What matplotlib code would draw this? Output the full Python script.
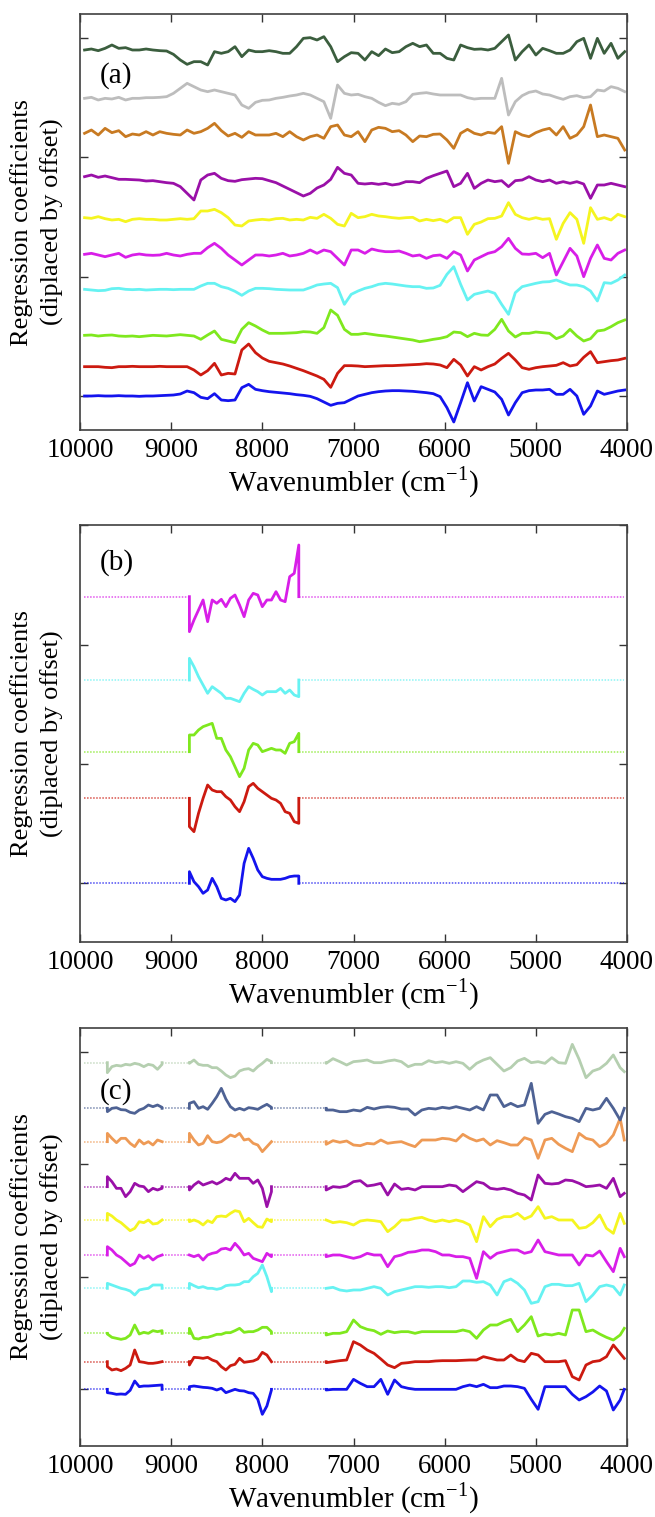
import matplotlib
matplotlib.use('Agg')
import numpy as np
import matplotlib.pyplot as plt

plt.rcParams['font.family'] = ['Liberation Serif', 'DejaVu Serif']
plt.rcParams['mathtext.fontset'] = 'custom'
plt.rcParams['mathtext.rm'] = 'Liberation Serif'

# ---------------- data ----------------
# wavenumber grids (cm-1)
wn_a = np.arange(9950, 4000, -75)            # 80 points
wn_b = np.arange(8800, 7550, -50)            # 25 points (active region)
wn_c1 = np.arange(9700, 9050, -50)           # 13 points
wn_c2 = np.arange(8800, 7850, -50)           # 19 points
wn_c3 = np.append(np.arange(7300, 4000, -75), 4030)  # 45 points
wn_start, wn_end = 9960, 4030

# panel (a): regression coefficients (a.u.), bottom to top
a_blue = [0,0,1,0,0,1,0,0,-1,0,0,1,2,3,6,15,10,-4,-8,7,-12,-14,-12,25,35,20,16,13,11,9,7,4,2,-1,-8,-18,-28,-22,-20,-10,
          0,5,10,13,15,16,16,15,14,12,10,7,-2,-35,-78,-20,40,-15,28,20,12,-10,-57,-20,10,16,18,18,20,5,5,20,0,-55,-30,15,5,10,15,18]
a_red = [0,0,0,-2,-3,0,0,1,0,0,0,1,0,0,0,0,-10,-25,-12,10,-25,-20,-22,50,68,42,26,16,12,8,2,-5,-12,-20,-28,-38,-62,-20,3,3,
         2,0,1,2,3,3,4,5,6,7,9,8,5,-3,22,5,-28,0,-10,0,8,25,40,20,-3,-8,-3,0,2,4,12,2,6,28,45,12,15,18,20,25]
a_green = [2,3,0,2,3,0,-1,0,-2,0,2,1,0,2,4,2,0,-10,3,15,-10,-15,-20,20,40,30,18,8,8,8,9,10,13,12,8,25,78,62,20,5,
           5,8,5,2,0,-3,-6,-9,-12,-17,-14,-10,-7,-2,12,10,-2,8,3,2,20,50,15,-3,8,8,12,10,8,-8,0,20,0,-15,-8,15,18,28,40,48]
a_cyan = [0,-2,-4,-3,2,3,0,-1,0,-2,-1,0,0,-1,0,0,0,10,18,18,8,3,-6,-18,-5,3,3,2,0,-1,-2,-2,-2,5,13,16,18,5,-45,-15,
          -5,3,8,15,18,16,13,10,8,8,3,4,12,45,68,15,-32,-15,-10,-5,-12,-45,-75,-10,8,13,18,22,23,28,20,13,13,8,-5,-35,20,18,28,43]
a_magenta = [2,5,0,-5,0,5,-7,0,3,0,-1,0,5,0,-3,2,5,5,22,35,20,0,-15,-30,-15,0,0,-3,0,5,-3,0,5,15,5,15,10,-10,-30,15,
             15,5,18,13,10,10,12,5,-3,0,-10,-2,0,-10,10,0,-48,-15,-5,5,10,25,50,20,3,2,5,-8,5,-60,-20,20,-3,-65,-10,30,-10,-15,5,15]
a_yellow = [5,3,8,2,-2,0,-7,0,2,0,0,-2,-2,0,2,0,2,25,25,30,20,5,-17,-20,-5,-2,0,-2,2,3,-2,0,-2,6,3,15,3,-15,-20,18,
            5,8,15,10,8,5,3,5,6,-5,0,-4,0,-8,5,5,-45,-15,-8,2,3,10,50,15,5,0,5,0,2,-60,-12,20,0,-72,35,0,5,-2,15,8]
a_purple = [0,5,-2,2,-3,-8,-8,-9,-10,-13,-12,-15,-18,-20,-30,-50,-70,-10,5,10,-5,-12,-14,-9,-7,-5,-6,-12,-18,-28,-38,-48,-58,-50,-34,-25,-8,28,10,5,
            -20,-22,-20,-23,-20,-25,-22,-15,-15,-18,-5,3,10,17,-30,-20,10,-35,-20,-10,-15,-12,-30,-12,-10,0,-10,-15,-10,-20,-15,-20,-15,-22,-65,-25,-25,-20,-25,-30]
a_orange = [0,10,-5,15,2,8,-10,-2,-5,5,-5,5,0,-3,-5,10,0,5,15,30,8,-8,0,-12,5,-5,-5,-5,0,-10,5,-10,-20,-10,-5,-15,20,25,-5,-10,
            5,-25,10,18,15,5,8,-5,-25,-8,-10,-3,-2,-20,-45,0,12,0,-5,3,0,20,-90,5,-5,-10,2,10,15,-5,20,-15,-5,20,85,-10,-5,-10,-15,-50]
a_gray = [0,3,-5,0,-2,3,-5,0,0,2,2,3,5,15,30,45,35,25,20,25,20,15,10,-20,-30,-12,-6,-5,0,3,7,10,15,10,0,-10,-60,40,15,10,
          12,5,0,-12,-22,-15,-18,-10,12,15,17,13,10,10,10,10,2,-2,0,0,0,60,-50,-10,8,18,22,13,10,3,-3,5,8,2,5,25,22,35,30,20]
a_darkgreen = [5,8,3,10,20,10,12,5,5,8,5,3,2,-8,-25,-38,-30,-30,-40,0,-5,0,15,-15,5,0,0,3,0,-5,-5,15,40,42,35,45,15,-30,-15,-3,
               -5,-25,0,-12,8,-3,0,15,25,15,20,-5,-5,-20,-25,20,12,7,8,5,10,30,50,-25,0,20,-10,10,3,-5,-5,5,30,40,-20,40,-5,25,-20,0]
a_series = [a_blue, a_red, a_green, a_cyan, a_magenta, a_yellow, a_purple, a_orange, a_gray, a_darkgreen]
a_offsets = [0, 88, 180, 320, 423, 530, 658, 788, 893, 1033]

# panel (b): active region 8800-7600 cm-1, bottom to top
b_blue = [35,5,-10,-30,-20,15,-10,-45,-50,-45,-55,-35,60,105,75,40,20,15,12,12,12,15,20,22,22]
b_red = [-85,-100,-45,0,40,25,20,20,5,-5,-25,-40,-10,35,45,30,20,10,0,-5,-15,-40,-45,-70,-75]
b_green = [50,50,65,75,80,85,40,40,5,-15,-45,-75,-50,5,25,20,0,5,10,5,5,-5,25,30,55]
b_cyan = [65,40,10,-15,-40,-20,-30,-40,-55,-55,-60,-65,-40,-20,-28,-35,-45,-35,-35,-35,-25,-40,-30,-45,-50]
b_magenta = [-105,-70,-40,-10,-75,-10,-20,-8,-30,-5,5,-25,-60,-10,10,5,-30,-10,-10,15,-10,-15,60,70,155]
b_series = [b_blue, b_red, b_green, b_cyan, b_magenta]
b_offsets = [0, 255, 395, 610, 860]

# panel (c): three active regions, bottom to top
c1_blue = [-10,-12,-15,-14,-15,-3,25,8,10,10,11,12,13]
c2_blue = [8,10,8,6,5,3,-2,3,-10,-5,0,-4,-5,-10,-12,-30,-75,-50,-2]
c3_blue = [-2,0,0,0,30,18,8,8,30,-15,28,8,3,0,0,0,0,0,0,0,8,13,8,15,5,5,10,10,8,3,-30,-60,8,8,8,8,-15,-32,-22,-8,10,-5,-62,-32,0]
c1_red = [-15,-25,-22,-27,-20,-10,35,0,-2,-5,-5,-3,0]
c2_red = [-10,13,12,10,13,5,0,-15,-25,-12,-8,10,-2,0,2,8,28,20,0]
c3_red = [-3,0,3,5,60,50,35,25,8,-10,-18,-5,-3,0,0,0,2,3,3,3,4,5,5,15,10,5,5,20,5,0,25,20,0,0,0,3,-45,-55,-10,0,3,15,50,25,10]
c1_green = [-2,-12,-15,-18,-15,-5,25,-2,3,0,8,5,8]
c2_green = [15,-15,-17,-12,-12,-8,-3,-3,2,2,8,15,3,5,5,10,18,18,5]
c3_green = [-5,0,0,5,40,20,12,8,-3,7,2,5,5,0,5,5,5,5,5,5,10,5,-15,10,25,25,35,42,5,25,50,-8,-2,-5,0,-5,70,70,5,10,-2,-12,-20,-5,15]
c1_cyan = [15,10,5,0,-3,-8,-20,-5,-2,0,10,10,10]
c2_cyan = [15,8,2,5,0,0,-3,0,8,10,10,12,20,20,35,45,70,35,-10]
c3_cyan = [0,3,-5,-8,-5,-5,0,5,0,-20,-10,-5,0,5,5,3,5,5,2,5,22,22,18,20,10,-20,20,28,15,-5,-45,-40,5,12,12,8,8,15,-40,-20,5,10,5,-20,10]
c1_magenta = [25,15,0,-8,-20,-32,-25,0,-10,-2,-15,-5,0]
c2_magenta = [0,-5,0,-15,0,5,8,18,20,15,35,20,0,5,-10,-15,-20,5,-5]
c3_magenta = [-5,0,0,-5,-10,-5,5,0,0,-35,-5,0,8,10,15,15,10,0,0,-5,-5,-10,-70,10,-10,5,10,15,15,5,10,45,10,5,0,0,0,-30,0,-3,12,-20,-50,20,-5]
c1_yellow = [20,12,0,-8,-20,-32,-25,-5,-8,0,-12,-10,0]
c2_yellow = [-5,0,-5,-15,-2,-8,10,12,10,20,28,25,-5,5,-8,-20,-22,3,-5]
c3_yellow = [0,-8,-5,-8,-15,-3,0,-2,-5,-35,-20,0,0,5,8,0,-5,0,-5,0,-5,-15,-65,10,-20,2,10,10,20,3,12,40,5,10,0,0,0,-25,-22,-8,15,-25,-40,20,-10]
c1_purple = [30,15,-5,-5,-30,-15,10,2,0,-15,-5,-10,-5]
c2_purple = [-10,5,15,5,10,15,8,15,25,20,40,25,25,25,10,20,-5,-60,-15]
c3_purple = [-10,0,-2,2,15,18,2,5,10,-25,8,-8,-5,-10,0,0,0,0,5,2,-15,0,15,10,-5,-8,-5,-10,-20,-25,-40,35,10,8,10,20,18,10,0,2,5,-5,25,-30,-20]
c1_orange = [25,10,-3,10,10,-5,-15,5,-7,0,-10,5,0]
c2_orange = [25,5,-10,-5,18,0,-3,0,10,20,15,25,5,8,-5,-10,-30,-15,0]
c3_orange = [-8,3,-2,2,-10,-12,-5,-7,5,-5,-2,0,-8,-15,5,5,5,10,8,2,22,10,2,8,-10,3,-3,-10,-10,12,5,-50,5,10,-8,-20,-30,25,10,5,-15,-5,20,70,5]
c1_navy = [-10,0,2,-4,-5,-12,-15,-5,0,10,5,10,3]
c2_navy = [15,20,0,5,-3,15,35,60,28,5,-5,0,-5,2,0,-3,5,12,3]
c3_navy = [-5,-5,-10,-10,-5,-8,3,-2,3,5,3,-2,-2,-20,-5,0,-2,3,0,5,0,-5,5,-5,40,40,5,15,5,10,75,-45,-18,-10,-17,-25,-30,-40,0,-5,0,30,0,-35,0]
c1_sage = [-30,-12,-8,-10,-5,-7,-2,-5,-12,-5,-8,-20,-5]
c2_sage = [-2,8,-5,-8,-8,-15,-15,-25,-37,-45,-40,-25,-20,-18,-25,-12,-2,10,3]
c3_sage = [-2,12,3,-7,3,5,8,0,0,5,8,3,-12,-5,-5,6,0,3,-2,3,-2,-20,-2,8,15,-5,-25,-15,5,13,0,3,-2,15,0,-2,55,10,-45,-25,-18,-2,23,-15,-27]
c_series = [(c1_blue, c2_blue, c3_blue), (c1_red, c2_red, c3_red), (c1_green, c2_green, c3_green),
            (c1_cyan, c2_cyan, c3_cyan), (c1_magenta, c2_magenta, c3_magenta), (c1_yellow, c2_yellow, c3_yellow),
            (c1_purple, c2_purple, c3_purple), (c1_orange, c2_orange, c3_orange), (c1_navy, c2_navy, c3_navy),
            (c1_sage, c2_sage, c3_sage)]
c_offsets = [0, 83, 168, 303, 403, 508, 608, 743, 843, 980]

colors10 = ['#1414ee', '#cc1a10', '#7fe81e', '#66f2f2', '#d81ee8', '#f5f520', '#9a10a8', '#c87a22', '#bdbdbd', '#3b5e3e']
colors_b = ['#1414ee', '#cc1a10', '#7fe81e', '#66f2f2', '#d81ee8']
colors_c = ['#1414ee', '#cc1a10', '#7fe81e', '#66f2f2', '#d81ee8', '#f5f520', '#9a10a8', '#ee9a55', '#4e6294', '#b5cfb0']

xticks = [10000, 9000, 8000, 7000, 6000, 5000, 4000]

# ---------------- figure ----------------
fig = plt.figure(figsize=(6.55, 15.17), dpi=100)
W, H = 655, 1517
left, right = 80, 627
boxes = [(14, 430), (525, 942), (1028, 1446)]
axes = []
for top, bot in boxes:
    ax = fig.add_axes([left / W, 1 - bot / H, (right - left) / W, (bot - top) / H])
    axes.append(ax)

LW = 2.0
DOT = dict(lw=1.1, ls=(0, (1, 1)), alpha=0.75)

# panel a
ax = axes[0]
for vals, off, col in zip(a_series, a_offsets, colors10):
    ax.plot(wn_a, np.array(vals) + off, color=col, lw=LW)
ax.set_ylim(-102, 1146)
ax.set_yticks([0, 358, 716, 1074])

# panel b
ax = axes[1]
for vals, off, col in zip(b_series, b_offsets, colors_b):
    ax.plot([wn_start, wn_b[0]], [off, off], color=col, **DOT)
    ax.plot([wn_b[-1], wn_end], [off, off], color=col, **DOT)
    xs = np.concatenate([[wn_b[0]], wn_b, [wn_b[-1]]])
    ys = np.concatenate([[0], vals, [0]]) + off
    ax.plot(xs, ys, color=col, lw=LW)
ax.set_ylim(-176, 1075)
ax.set_yticks([0, 358, 716, 1074])

# panel c
ax = axes[2]
segs = [wn_c1, wn_c2, wn_c3]
for (v1, v2, v3), off, col in zip(c_series, c_offsets, colors_c):
    ax.plot([wn_start, wn_c1[0]], [off, off], color=col, **DOT)
    ax.plot([wn_c1[-1], wn_c2[0]], [off, off], color=col, **DOT)
    ax.plot([wn_c2[-1], wn_c3[0]], [off, off], color=col, **DOT)
    for wn, v in zip(segs, (v1, v2, v3)):
        if wn is wn_c3:
            xs, ys = np.concatenate([[wn[0]], wn]), np.concatenate([[0], v]) + off
        else:
            xs = np.concatenate([[wn[0]], wn, [wn[-1]]])
            ys = np.concatenate([[0], v, [0]]) + off
        ax.plot(xs, ys, color=col, lw=LW)
ax.set_ylim(-170, 1084)
ax.set_yticks([0, 338, 676, 1013])

labels = ['(a)', '(b)', '(c)']
label_y = [0.853, 0.911, 0.847]
for ax, lab, ly, (top, bot) in zip(axes, labels, label_y, boxes):
    ax.set_xlim(10000, 4000)
    ax.set_xticks(xticks)
    ax.set_xticklabels([str(t) for t in xticks])
    ax.tick_params(direction='in', top=True, right=True, length=6, width=1.0,
                   labelsize=19.5, labelleft=False, pad=6, colors='#333333', labelcolor='black')
    for s in ax.spines.values():
        s.set_color('#404040')
        s.set_linewidth(1.2)
    ax.text(0.037, ly, lab, transform=ax.transAxes, fontsize=21, ha='left', va='center')
    ax.set_xlabel('Wavenumbler (cm$^{-1}$)', fontsize=21, labelpad=1)
    yc = 1 - (top + bot) / 2 / H
    fig.text(22 / W, yc, 'Regression coefficients', rotation=90, ha='center', va='center', fontsize=19)
    fig.text(52 / W, yc, '(diplaced by offset)', rotation=90, ha='center', va='center', fontsize=19)

fig.savefig('out.png', dpi=100)
